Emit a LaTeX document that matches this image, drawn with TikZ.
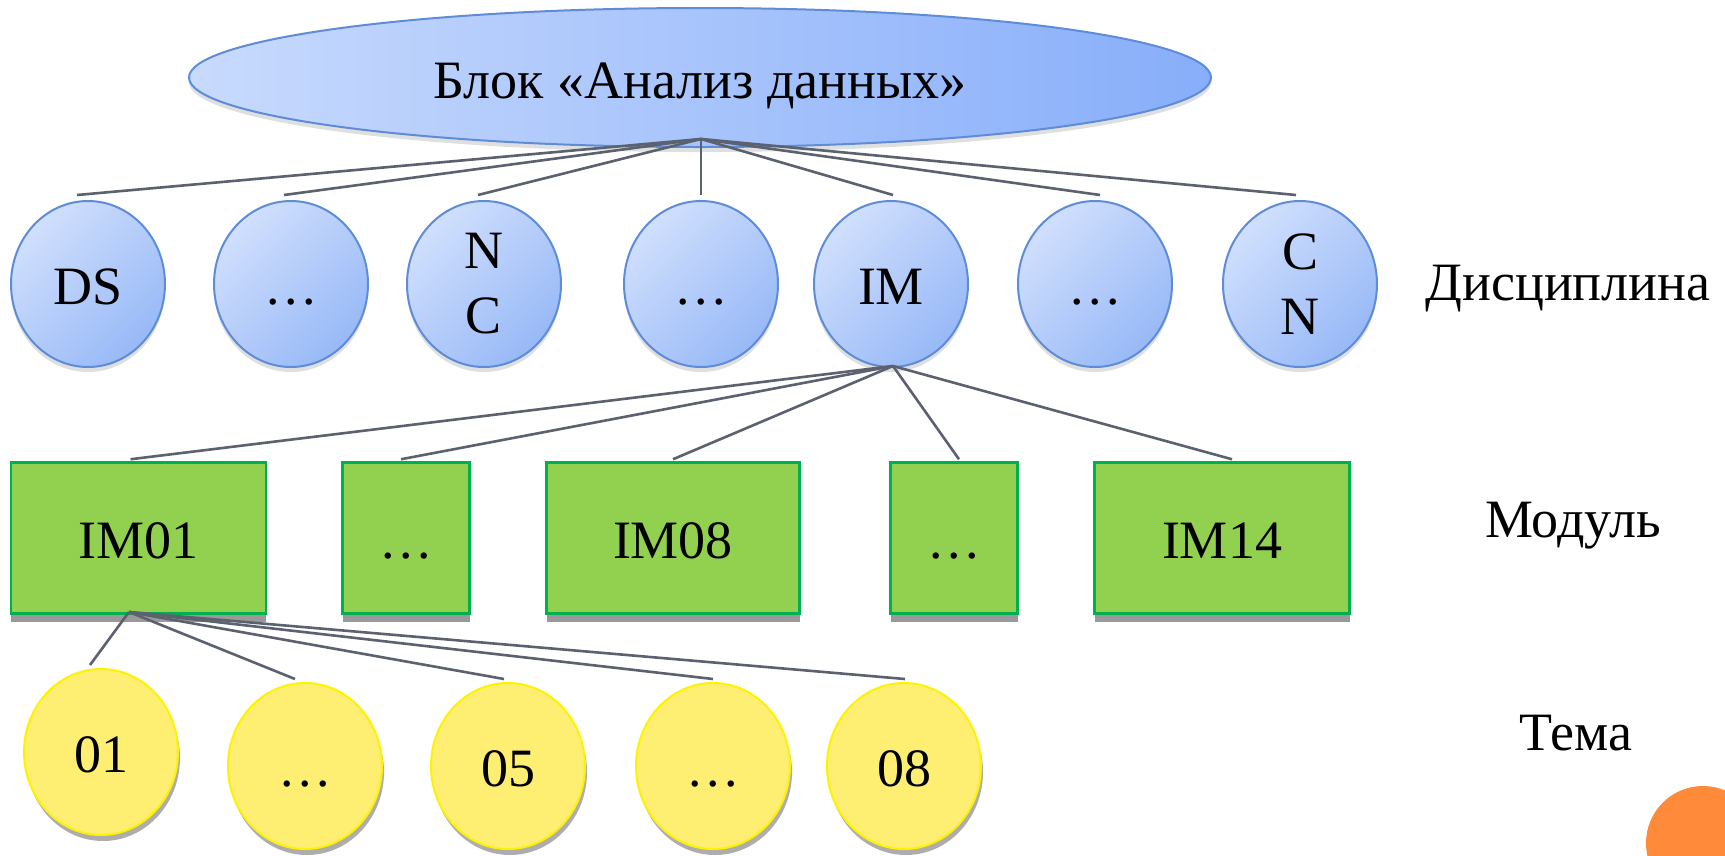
\documentclass[tikz,border=0pt]{standalone}
\usepackage{fontspec}
\setmainfont{Liberation Serif}
\usetikzlibrary{shapes.geometric,shadows,calc}
\definecolor{lnc}{HTML}{5C6170}
\definecolor{bbord}{HTML}{5E8CD8}
\definecolor{bL}{HTML}{C8DAFD}
\definecolor{bR}{HTML}{88AEFA}
\definecolor{cL}{HTML}{D0DFFD}
\definecolor{cR}{HTML}{98B9F7}
\definecolor{gfill}{HTML}{92D050}
\definecolor{gbord}{HTML}{00B050}
\definecolor{yfill}{HTML}{FEEE72}
\definecolor{ybord}{HTML}{FFF200}
\definecolor{orng}{HTML}{FF8B3A}
\definecolor{shd}{HTML}{999999}
\newcommand{\dotsx}{\vphantom{D}.\kern4.5pt.\kern4.5pt.}
\tikzset{
  conn/.style={draw=lnc, line width=2.6pt},
  txt/.style={font=\fontsize{54}{65}\selectfont},
  oneline/.style={text height=41pt, text depth=0pt},
  topell/.style={ellipse, draw=bbord, line width=2pt, minimum width=1022pt, minimum height=139pt, inner sep=0pt,
     left color=bL, right color=bR, txt, oneline,
     drop shadow={shadow xshift=0pt, shadow yshift=-5pt, opacity=0.25}},
  disc/.style={ellipse, draw=bbord, line width=2pt, minimum width=154pt, minimum height=166pt, inner sep=0pt,
     shading=axis, left color=cL, right color=cR, shading angle=45, txt, align=center,
     drop shadow={shadow xshift=0pt, shadow yshift=-5pt, opacity=0.25}},
  modbox/.style={rectangle, draw=gbord, line width=2.5pt, fill=gfill, minimum height=151pt, inner sep=0pt, txt, oneline,
     drop shadow={shadow xshift=0pt, shadow yshift=-8pt, fill=shd, opacity=1}},
  topic/.style={ellipse, draw=ybord, line width=2pt, fill=yfill, minimum width=154pt, minimum height=166pt, inner sep=0pt, txt, oneline,
     drop shadow={shadow xshift=2pt, shadow yshift=-6pt, fill=shd, opacity=0.8}},
  lvl/.style={txt, inner sep=0pt}
}
\begin{document}
\begin{tikzpicture}[x=1pt,y=-1pt]
\useasboundingbox (0,0) rectangle (1725,855);
\clip (0,0) rectangle (1725,855);
\fill[orng] (1703,843) circle (57pt);
% top
\node[topell] (top) at (700,77.5) {Блок «Анализ данных»};
\coordinate (hub0) at (701,139);
% disciplines
\node[disc, oneline] (d1) at (88,284) {DS};
\node[disc, oneline] (d2) at (291,284) {\dotsx};
\node[disc] (d3) at (484,284) {N\\C};
\node[disc, oneline] (d4) at (701,284) {\dotsx};
\node[disc, oneline] (d5) at (891,284) {IM};
\node[disc, oneline] (d6) at (1095,284) {\dotsx};
\node[disc] (d7) at (1300,284) {C\\N};
\coordinate (hub1) at (893,366);
% modules
\node[modbox, minimum width=255pt] (m1) at (138.5,538) {IM01};
\node[modbox, minimum width=127pt] (m2) at (406,538) {\dotsx};
\node[modbox, minimum width=253pt] (m3) at (673,538) {IM08};
\node[modbox, minimum width=127pt] (m4) at (954,538) {\dotsx};
\node[modbox, minimum width=255pt] (m5) at (1222,538) {IM14};
\coordinate (hub2) at (129,612);
% topics
\node[topic] (t1) at (101,752) {01};
\node[topic] (t2) at (305,766) {\dotsx};
\node[topic] (t3) at (508,766) {05};
\node[topic] (t4) at (713,766) {\dotsx};
\node[topic] (t5) at (904,766) {08};
% level labels
\node[lvl] (l1) at (1568,289) {Дисциплина};
\node[lvl] (l2) at (1573,526) {Модуль};
\node[lvl] (l3) at (1576,733) {Тема};
% connectors
\foreach \n/\dx in {d1/-11,d2/-7,d3/-6,d4/0,d5/2,d6/5,d7/-4}
  \draw[conn] (hub0) -- ([xshift=\dx pt, yshift=5pt]\n.north);
\foreach \n/\dx in {m1/-8,m2/-5,m3/0,m4/5,m5/10}
  \draw[conn] (hub1) -- ([xshift=\dx pt, yshift=2pt]\n.north);
\foreach \n/\dx in {t1/-11,t2/-10,t3/-4,t4/0,t5/1}
  \draw[conn] (hub2) -- ([xshift=\dx pt, yshift=3pt]\n.north);
\end{tikzpicture}
\end{document}
